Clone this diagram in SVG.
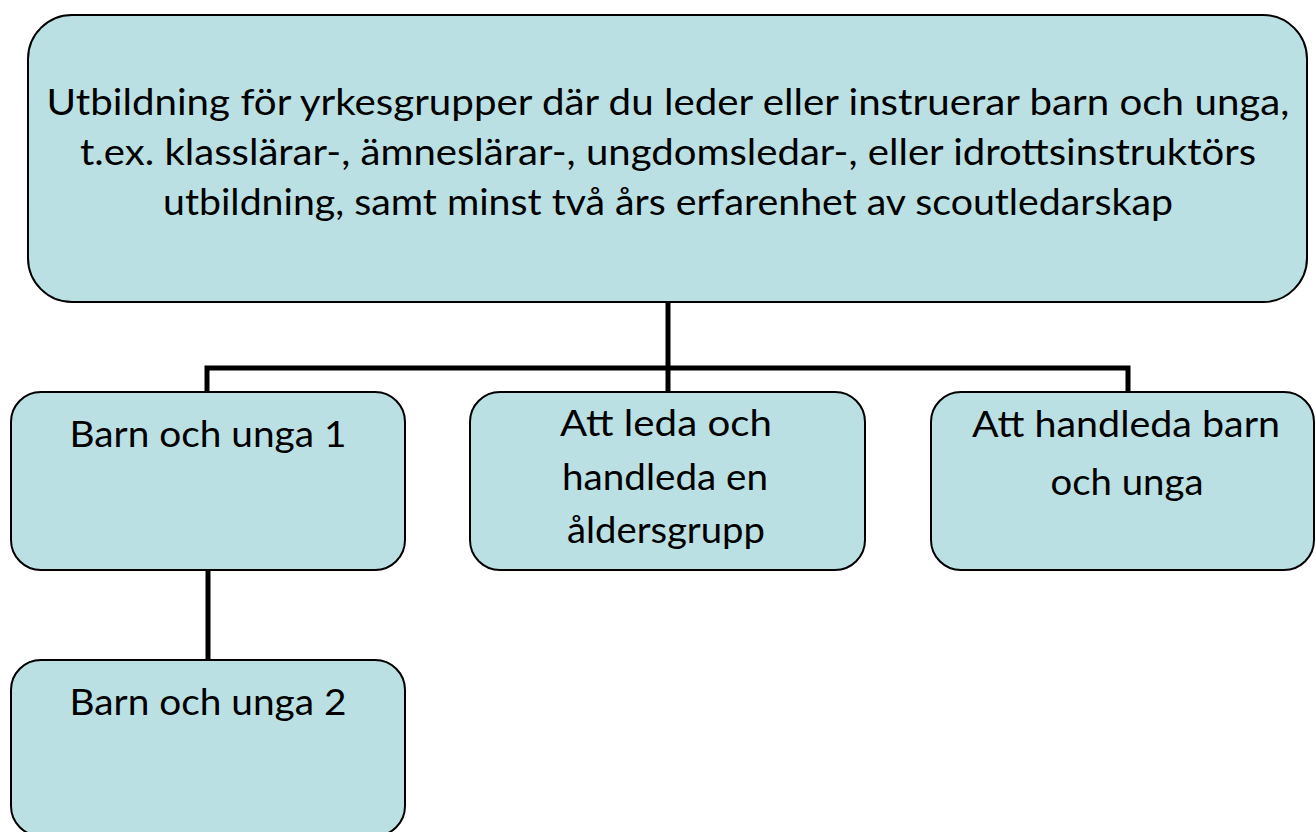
<svg xmlns="http://www.w3.org/2000/svg" width="1316" height="832" viewBox="0 0 1316 832">
  <style>
    .box { fill: #bbe0e3; stroke: #000; stroke-width: 2; }
    .lbl { font-family: Lato, "Liberation Sans", sans-serif; font-size: 37px; fill: #000; text-anchor: middle; }
    .conn { fill: none; stroke: #000; stroke-width: 5; }
  </style>
  <rect width="1316" height="832" fill="#fff"/>
  <g id="connectors">
    <path class="conn" d="M668 302 V392"/>
    <path class="conn" d="M207 392 V368 H1128 V392"/>
    <path class="conn" d="M208 570 V660"/>
  </g>
  <g id="top">
    <rect class="box" x="28" y="15" width="1279" height="287" rx="44" ry="44"/>
    <text class="lbl" x="668" y="115" textLength="1243" lengthAdjust="spacingAndGlyphs">Utbildning för yrkesgrupper där du leder eller instruerar barn och unga,</text>
    <text class="lbl" x="668" y="165" textLength="1176" lengthAdjust="spacingAndGlyphs">t.ex. klasslärar-, ämneslärar-, ungdomsledar-, eller idrottsinstruktörs</text>
    <text class="lbl" x="668" y="215" textLength="1010" lengthAdjust="spacingAndGlyphs">utbildning, samt minst två års erfarenhet av scoutledarskap</text>
  </g>
  <g id="barn1">
    <rect class="box" x="11" y="392" width="394" height="178" rx="30" ry="30"/>
    <text class="lbl" x="208" y="447" textLength="277" lengthAdjust="spacingAndGlyphs">Barn och unga 1</text>
  </g>
  <g id="leda">
    <rect class="box" x="470" y="392" width="395" height="178" rx="30" ry="30"/>
    <text class="lbl" x="666" y="436" textLength="212" lengthAdjust="spacingAndGlyphs">Att leda och</text>
    <text class="lbl" x="665" y="490" textLength="206" lengthAdjust="spacingAndGlyphs">handleda en</text>
    <text class="lbl" x="666" y="543" textLength="198" lengthAdjust="spacingAndGlyphs">åldersgrupp</text>
  </g>
  <g id="handleda">
    <rect class="box" x="931" y="392" width="383" height="178" rx="30" ry="30"/>
    <text class="lbl" x="1126" y="437" textLength="308" lengthAdjust="spacingAndGlyphs">Att handleda barn</text>
    <text class="lbl" x="1127" y="495" textLength="153" lengthAdjust="spacingAndGlyphs">och unga</text>
  </g>
  <g id="barn2">
    <rect class="box" x="11" y="660" width="394" height="176" rx="30" ry="30"/>
    <text class="lbl" x="208" y="715" textLength="277" lengthAdjust="spacingAndGlyphs">Barn och unga 2</text>
  </g>
</svg>
